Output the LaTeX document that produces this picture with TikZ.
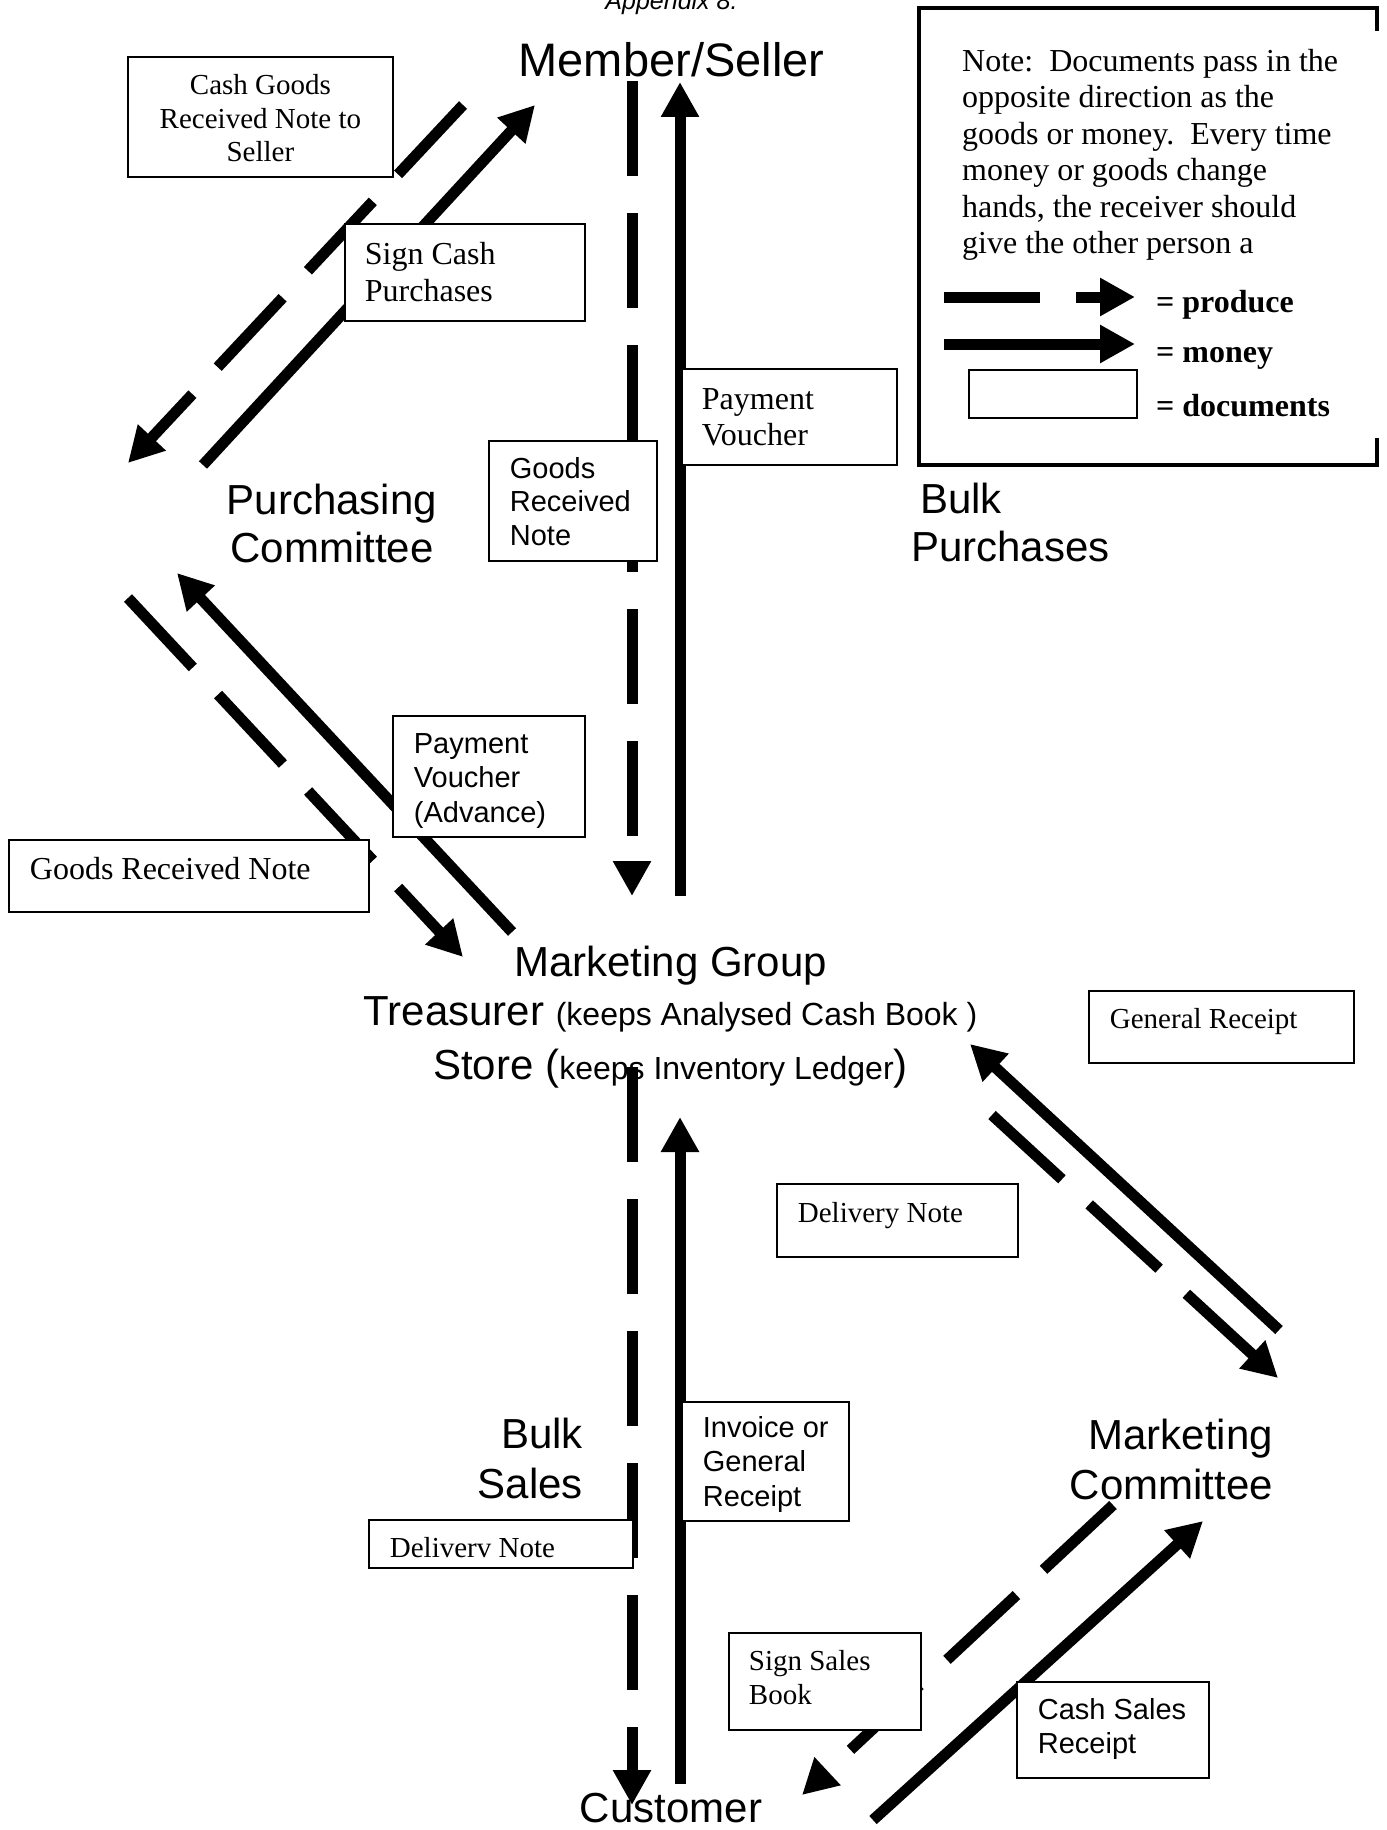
\documentclass[tikz,border=0pt]{standalone}
\usepackage{fontspec}
\setmainfont{Liberation Serif}
\newfontfamily\arial{Liberation Sans}
\usetikzlibrary{arrows.meta}
\newcommand\boxtxt[3]{\makebox[#1pt][l]{\hspace*{#2pt}\begin{tabular}[t]{@{}l@{}}#3\end{tabular}}}
\newcommand\boxctr[2]{\makebox[#1pt][c]{\begin{tabular}[t]{@{}c@{}}#2\end{tabular}}}
\newcommand\mgsmall{\fontsize{32}{48}\selectfont}
\begin{document}
\begin{tikzpicture}[x=1pt,y=-1pt,
  money/.style={line width=11pt,-{Triangle[length=35pt,width=36pt]}},
  produce/.style={money,dash pattern=on 95pt off 37pt},
  doc/.style={draw,line width=1.8pt,fill=white,inner sep=0pt,anchor=base west},
  lab/.style={inner sep=0pt,font=\arial\fontsize{42}{48}\selectfont},
  sr29/.style={font=\fontsize{29}{33.5}\selectfont},
  sr32/.style={font=\fontsize{32}{36.5}\selectfont},
  ss29/.style={font=\arial\fontsize{29}{34}\selectfont}]
\useasboundingbox (0,0) rectangle (1386,1830);

% ---------- main labels ----------
\node[inner sep=0pt,anchor=base,font=\arial\itshape\fontsize{25}{30}\selectfont] (appx) at (671.5,9.5) {Appendix 8.};
\node[lab,anchor=base,font=\arial\fontsize{47}{54}\selectfont] (member) at (671.5,77) {Member/Seller};
\node[lab,anchor=base] (purch) at (332,514) {\begin{tabular}[t]{@{}c@{}}Purchasing\\Committee\end{tabular}};
\node[lab,anchor=base west] (bulkp) at (911,513) {\begin{tabular}[t]{@{}l@{}}\hspace*{9pt}Bulk\\Purchases\end{tabular}};
\node[lab,anchor=base] (mgroup) at (670.5,976) {\begin{tabular}[t]{@{}c@{}}Marketing Group\\[1pt]Treasurer {\mgsmall(keeps Analysed Cash Book )}\\[6pt]Store ({\mgsmall keeps Inventory Ledger})\end{tabular}};
\node[lab,anchor=base east] (bulks) at (583,1448) {\begin{tabular}[t]{@{}r@{}}Bulk\\[2pt]Sales\end{tabular}};
\node[lab,anchor=base east] (mcomm) at (1273,1449) {\begin{tabular}[t]{@{}r@{}}Marketing\\[2pt]Committee\end{tabular}};
\node[lab,anchor=base] (cust) at (671,1822) {Customer};

% ---------- arrow end points ----------
\coordinate (d1s) at (463,105);  \coordinate (d1e) at (128,463);
\coordinate (m1s) at (203,465);  \coordinate (m1e) at (535,105);
\coordinate (d2s) at (632,81);   \coordinate (d2e) at (632,896);
\coordinate (m2s) at (680,896);  \coordinate (m2e) at (680,82);
\coordinate (d3s) at (128,598);  \coordinate (d3e) at (463,957);
\coordinate (m3s) at (512,932);  \coordinate (m3e) at (177,573);
\coordinate (d4s) at (992,1115); \coordinate (d4e) at (1278,1378);
\coordinate (m4s) at (1279,1330);\coordinate (m4e) at (970,1044);
\coordinate (d5s) at (632,1067); \coordinate (d5e) at (632,1805);
\coordinate (m5s) at (680,1784); \coordinate (m5e) at (680,1117);
\coordinate (d6s) at (1113,1505);\coordinate (d6e) at (802,1795);
\coordinate (m6s) at (873,1820); \coordinate (m6e) at (1203,1521);

% ---------- arrows ----------
\draw[produce] (d1s) -- (d1e);
\draw[money]   (m1s) -- (m1e);
\draw[produce] (d2s) -- (d2e);
\draw[money]   (m2s) -- (m2e);
\draw[produce] (d3s) -- (d3e);
\draw[money]   (m3s) -- (m3e);
\draw[produce] (d4s) -- (d4e);
\draw[money]   (m4s) -- (m4e);
\draw[produce] (d5s) -- (d5e);
\draw[money]   (m5s) -- (m5e);
\draw[produce] (d6s) -- (d6e);
\draw[money]   (m6s) -- (m6e);

% ---------- documents ----------
\node[doc,sr29,text height=38pt,text depth=82pt] (cashgoods) at (127,95) {\boxctr{265}{Cash Goods\\Received Note to\\Seller}};
\node[doc,font=\fontsize{32}{37}\selectfont,text height=40pt,text depth=57pt] (signcash) at (344,264) {\boxtxt{240}{20}{Sign Cash\\Purchases}};
\node[doc,font=\fontsize{32}{36}\selectfont,text height=40pt,text depth=56pt] (payvouch) at (681,409) {\boxtxt{215}{20}{Payment\\Voucher}};
\node[doc,font=\arial\fontsize{29}{33.5}\selectfont,text height=37pt,text depth=83pt] (goodsrec) at (488,478) {\boxtxt{168}{21}{Goods\\Received\\Note}};
\node[doc,font=\arial\fontsize{29}{34.5}\selectfont,text height=37pt,text depth=84pt] (payadv) at (392,753) {\boxtxt{192}{21}{Payment\\Voucher\\(Advance)}};
\node[doc,sr32,text height=39pt,text depth=33pt] (grn) at (8,879) {\boxtxt{360}{21}{Goods Received Note}};
\node[doc,sr29,text height=37pt,text depth=35pt] (genrec) at (1088,1028) {\boxtxt{265}{21}{General Receipt}};
\node[doc,sr29,text height=38pt,text depth=35pt] (delnote) at (776,1222) {\boxtxt{241}{21}{Delivery Note}};
\node[doc,font=\arial\fontsize{29}{34.5}\selectfont,text height=35pt,text depth=84pt] (invoice) at (681,1437) {\boxtxt{167}{21}{Invoice or\\General\\Receipt}};
\node[doc,sr29,text height=37pt,text depth=11pt] (deliverv) at (368,1557) {\boxtxt{264}{21}{Deliverv Note}};
\node[doc,font=\fontsize{29}{34}\selectfont,text height=37pt,text depth=60pt] (signsales) at (728,1670) {\boxtxt{192}{20}{Sign Sales\\Book}};
\node[doc,ss29,text height=37pt,text depth=59pt] (cashsales) at (1016,1719) {\boxtxt{192}{21}{Cash Sales\\Receipt}};

% ---------- legend ----------
\draw[line width=3.5pt,line join=miter] (1377,31) -- (1377,8) -- (919,8) -- (919,465) -- (1377,465) -- (1377,438);
\node[sr32,inner sep=0pt,anchor=base west] (note) at (962,71.5) {\begin{tabular}[t]{@{}l@{}}Note:\ \ Documents pass in the\\opposite direction as the\\goods or money.\ \ Every time\\money or goods change\\hands, the receiver should\\give the other person a\end{tabular}};
\coordinate (lps) at (944,297); \coordinate (lpe) at (1135,297);
\coordinate (lms) at (944,344); \coordinate (lme) at (1135,344);
\draw[money,dash pattern=on 96pt off 36pt] (lps) -- (lpe);
\draw[money] (lms) -- (lme);
\node[draw,line width=1.8pt,inner sep=0pt,minimum width=168pt,minimum height=48pt,anchor=north west] (docsym) at (968,369) {};
\node[font=\bfseries\fontsize{32}{36}\selectfont,inner sep=0pt,anchor=base west] (lprod) at (1156,312) {= produce};
\node[font=\bfseries\fontsize{32}{36}\selectfont,inner sep=0pt,anchor=base west] (lmon) at (1156,362) {= money};
\node[font=\bfseries\fontsize{32}{36}\selectfont,inner sep=0pt,anchor=base west] (ldoc) at (1156,416) {= documents};
\end{tikzpicture}
\end{document}
